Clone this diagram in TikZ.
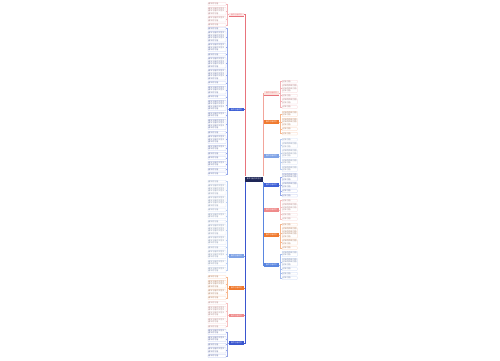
\documentclass[tikz,border=0pt]{standalone}
\usepackage{fontspec}
\newfontfamily\cjk{Noto Sans CJK SC}
\XeTeXlinebreaklocale "zh"
\XeTeXlinebreakskip = 0pt plus 1pt
\usetikzlibrary{backgrounds}
\definecolor{cA}{HTML}{E8747C}
\definecolor{cAf}{HTML}{FCE4E4}
\definecolor{cB}{HTML}{3D5FD6}
\definecolor{cC}{HTML}{7FA3E6}
\definecolor{cD}{HTML}{F07A2E}
\definecolor{cE}{HTML}{EF8A8A}
\definecolor{cF}{HTML}{3A56CF}
\definecolor{cRA}{HTML}{F2A59B}
\definecolor{cRAf}{HTML}{FBE1DC}
\definecolor{cG}{HTML}{5A86E0}
\definecolor{navy}{HTML}{1E2657}
\def\mmfont{\cjk\fontsize{2}{2.5}\selectfont}
\def\mmnfont{\cjk\fontsize{1.8}{2}\selectfont}
\newcount\mmc
\def\mmloop{\ifnum\mmc>1 \mmfull\newline\advance\mmc -1 \expandafter\mmloop\else\mmshort\fi}
\newcommand\mmlines[3]{\mmc=#1\relax\def\mmfull{#2}\def\mmshort{#3}\mmloop}
\tikzset{
  conn/.style={line width=0.5pt},
  kconn/.style={line width=0.3pt},
  kidl/.style={anchor=north east, text width=17pt, inner sep=0.5pt, font=\mmfont, align=left, rounded corners=0.4pt, line width=0.25pt, fill=white},
  kidr/.style={anchor=north west, text width=14pt, inner sep=0.5pt, font=\mmfont, align=left, rounded corners=0.4pt, line width=0.25pt, fill=white},
  bnode/.style={minimum width=15pt, minimum height=3.5pt, inner sep=0pt, font=\mmnfont},
}
\newcommand\mmleft[5]{%
  \xdef\mmy{#3}%
  \foreach \n [count=\i] in {#4}{%
    \node[kidl,draw=#2!35,text=#2!40!gray] (#1\i) at (226,\mmy) {\mmlines{\n}{春节习俗作文范文}{春节的习俗}};
    \begin{pgfonlayer}{background}
    \draw[kconn,#2!55] (#5.west) -- ++(-1.5,0) |- (#1\i.east);
    \end{pgfonlayer}
    \pgfmathsetmacro\mmyn{\mmy+\n*2.5+2}\xdef\mmy{\mmyn}%
  }%
}
\newcommand\mmright[5]{%
  \xdef\mmy{#3}%
  \foreach \n [count=\i] in {#4}{%
    \node[kidr,draw=#2!35,text=#2!40!gray] (#1\i) at (282,\mmy) {\mmlines{\n}{过年的传统习俗}{过年习俗}};
    \begin{pgfonlayer}{background}
    \draw[kconn,#2!55] (#5.east) -- ++(1.2,0) |- (#1\i.west);
    \end{pgfonlayer}
    \pgfmathsetmacro\mmyn{\mmy+\n*2.5+2}\xdef\mmy{\mmyn}%
  }%
}
\begin{document}
\begin{tikzpicture}[x=1pt,y=-1pt]
\begin{pgfonlayer}{background}
\fill[white] (0,0) rectangle (500,360);
\end{pgfonlayer}
\useasboundingbox (0,0) rectangle (500,360);
% centre
\node[fill=navy, text=white, minimum width=18pt, minimum height=5pt, inner sep=0pt, font=\mmnfont] (c) at (254,179) {春节习俗作文范文};
% left branch nodes
\node[bnode, fill=cAf, text=cA] (la) at (236.5,14.5) {春节习俗作文};
\node[bnode, fill=cB, text=white] (lb) at (236.5,109.5) {春节习俗作文};
\node[bnode, fill=cC, text=white] (lc) at (236.5,256) {春节习俗作文};
\node[bnode, fill=cD, text=white] (ld) at (236.5,288) {春节习俗作文};
\node[bnode, fill=cE, text=white] (le) at (236.5,315.5) {春节习俗作文};
\node[bnode, fill=cF, text=white] (lf) at (236.5,343) {春节习俗作文};
% right branch nodes
\node[bnode, fill=cRAf, text=cA] (ra) at (271.5,93) {春节习俗作文};
\node[bnode, fill=cD, text=white] (rb) at (271.5,122) {春节习俗作文};
\node[bnode, fill=cC, text=white] (rc) at (271.5,156) {春节习俗作文};
\node[bnode, fill=cB, text=white] (rd) at (271.5,185) {春节习俗作文};
\node[bnode, fill=cE, text=white] (re) at (271.5,210) {春节习俗作文};
\node[bnode, fill=cD, text=white] (rf) at (271.5,235) {春节习俗作文};
\node[bnode, fill=cG, text=white] (rg) at (271.5,265) {春节习俗作文};
\draw[line width=0.4pt,cA] (la.south west) -- (la.south east);
\draw[line width=0.4pt,cA] (ra.south west) -- (ra.south east);
% main connectors
\begin{pgfonlayer}{background}
\draw[conn,cB] (lb.east) -| (c.north west);
\draw[conn,cA] (la.east) -| (c.north west);
\draw[conn,cC] (lc.east) -| (c.south west);
\draw[conn,cD] (ld.east) -| (c.south west);
\draw[conn,cE] (le.east) -| (c.south west);
\draw[conn,cF] (lf.east) -| (c.south west);
\draw[conn,cB] (rd.west) -| (c.south east);
\draw[conn,cC] (rc.west) -| (c.north east);
\draw[conn,cE] (re.west) -| (c.south east);
\draw[conn,cD] (rb.west) -| (c.north east);
\draw[conn,cD] (rf.west) -| (c.south east);
\draw[conn,cRA] (ra.west) -| (c.north east);
\draw[conn,cG] (rg.west) -| (c.south east);
\end{pgfonlayer}
% children
\mmleft{a}{cA}{2.5}{1,3,2,1}{la}
\mmleft{b}{cB}{27}{1,4,3,1,4,4,1,3,1,4,2,4,1,3,2,1,1,2,1,1}{lb}
\mmleft{cc}{cC}{180}{1,4,4,1,2,1,4,3,1,3,2,2}{lc}
\mmleft{d}{cD}{275.5}{1,3,2,1}{ld}
\mmleft{e}{cE}{301.5}{1,4,2,1}{le}
\mmleft{f}{cF}{329}{2,2,1,2,1}{lf}
\mmright{ra}{cA}{80}{1,3,1,2,1}{ra}
\mmright{rb}{cD}{111}{2,3,1,1}{rb}
\mmright{rc}{cC}{138}{1,2,3,2,2}{rc}
\mmright{rd}{cB}{173}{3,2,1,1}{rd}
\mmright{re}{cE}{199}{1,3,1,1}{re}
\mmright{rf}{cD}{223}{1,4,2,1}{rf}
\mmright{rg}{cG}{251}{2,3,1,1,1}{rg}
\end{tikzpicture}
\end{document}
